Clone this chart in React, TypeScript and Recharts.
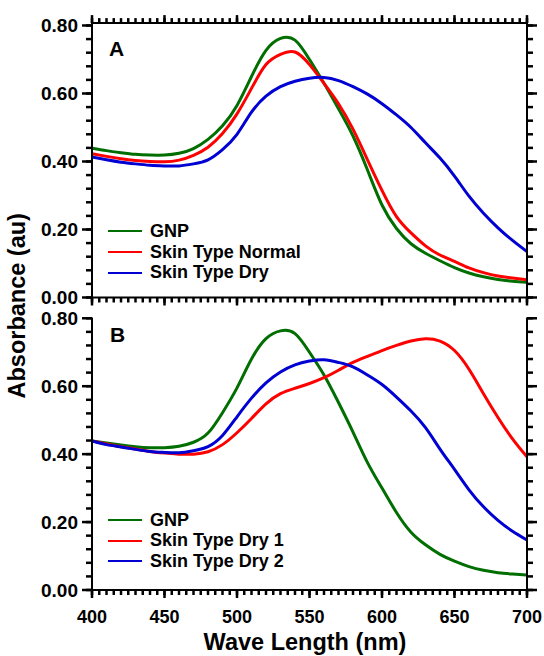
import React from 'react';
import { LineChart, Line, XAxis, YAxis, Legend } from 'recharts';

// wavelength (nm) sampled every 10 nm
const wavelengths = [
  400, 410, 420, 430, 440, 450, 460, 470, 480, 490, 500, 510, 520, 530, 540, 550,
  560, 570, 580, 590, 600, 610, 620, 630, 640, 650, 660, 670, 680, 690, 700,
];

// panel A
const gnpA = [
  0.439, 0.432, 0.426, 0.421, 0.419, 0.419, 0.424, 0.438, 0.465, 0.505, 0.565, 0.65, 0.727, 0.762, 0.757, 0.7,
  0.63, 0.555, 0.475, 0.375, 0.272, 0.203, 0.158, 0.13, 0.108, 0.088, 0.072, 0.061, 0.053, 0.048, 0.045,
];
const normalA = [
  0.423, 0.415, 0.408, 0.403, 0.4, 0.399, 0.404, 0.418, 0.442, 0.482, 0.54, 0.615, 0.685, 0.715, 0.722, 0.685,
  0.63, 0.57, 0.495, 0.405, 0.315, 0.238, 0.19, 0.152, 0.125, 0.106, 0.087, 0.073, 0.063, 0.057, 0.052,
];
const dryA = [
  0.413, 0.405, 0.398, 0.393, 0.389, 0.387, 0.387, 0.393, 0.405, 0.435, 0.48, 0.545, 0.592, 0.62, 0.636, 0.645,
  0.647, 0.638, 0.62, 0.598, 0.57, 0.537, 0.5, 0.455, 0.41, 0.357, 0.298, 0.248, 0.205, 0.168, 0.135,
];

// panel B
const gnpB = [
  0.439, 0.433, 0.427, 0.422, 0.419, 0.419, 0.423, 0.435, 0.462, 0.522, 0.595, 0.68, 0.74, 0.763, 0.755, 0.7,
  0.633, 0.552, 0.465, 0.375, 0.3, 0.228, 0.17, 0.133, 0.105, 0.085, 0.069, 0.058, 0.051, 0.047, 0.044,
];
const dry1B = [
  0.439, 0.43, 0.422, 0.415, 0.408, 0.403, 0.4, 0.4, 0.407, 0.428, 0.463, 0.505, 0.548, 0.578, 0.594, 0.608,
  0.625, 0.647, 0.67, 0.688, 0.705, 0.72, 0.733, 0.74, 0.733, 0.705, 0.65, 0.578, 0.508, 0.445, 0.392,
];
const dry2B = [
  0.439, 0.428, 0.421, 0.414, 0.408, 0.405, 0.404, 0.41, 0.422, 0.455, 0.51, 0.565, 0.61, 0.642, 0.663, 0.674,
  0.678, 0.67, 0.657, 0.633, 0.605, 0.568, 0.527, 0.478, 0.415, 0.355, 0.295, 0.245, 0.205, 0.173, 0.147,
];

const seriesNamesA = ['GNP', 'Skin Type Normal', 'Skin Type Dry'];
const seriesNamesB = ['GNP', 'Skin Type Dry 1', 'Skin Type Dry 2'];
const colors = ['#006e00', '#ff0000', '#0000d2'];

const xMajor = [400, 450, 500, 550, 600, 650, 700];
const yMajor = [0, 0.2, 0.4, 0.6, 0.8];

// minor ticks: 5 nm and 0.04 au
const xMinor: number[] = [];
for (let k = 0; k <= 60; k++) xMinor.push(400 + k * 5);
const yMinor: number[] = [];
for (let k = 0; k <= 20; k++) yMinor.push(Math.round(k * 4) / 100);

const dataA = wavelengths.map((w, i) => ({ w, a: gnpA[i], b: normalA[i], c: dryA[i] }));
const dataB = wavelengths.map((w, i) => ({ w, a: gnpB[i], b: dry1B[i], c: dry2B[i] }));

const FONT = '"Liberation Sans", Arial, Helvetica, sans-serif';
const INK = '#000';
const blank = () => '';
// recharts skips an axis whose box is 0 wide/high, so the minor-tick axes get a sliver
const SLIVER = 0.01;

const LegendBox = ({ names }: any) => (
  <div style={{ fontFamily: FONT, fontWeight: 700, fontSize: 18, color: INK, lineHeight: '20.7px' }}>
    {names.map((n: string, i: number) => (
      <div key={n} style={{ display: 'flex', alignItems: 'center', height: 20.7, whiteSpace: 'nowrap' }}>
        <div style={{ width: 34, height: 2, background: colors[i] }} />
        <span style={{ marginLeft: 8 }}>{n}</span>
      </div>
    ))}
  </div>
);

const tickLine = { stroke: INK, strokeWidth: 2.5 };
const axisLine = { stroke: INK, strokeWidth: 2 };
const tickFontX = { fontSize: 18, fontWeight: 700, fill: INK, fontFamily: FONT };
const tickFontY = { fontSize: 19, fontWeight: 700, fill: INK, fontFamily: FONT };

// major axes: ids "z*", declared first; minor axes: ids "m*", declared last (they end up next to the plot)
const Panel = ({ data, names, top, height, margin, domainMax, withTop, labels, legendTop }: any) => (
  <div style={{ position: 'absolute', left: 0, top }}>
    <LineChart width={544} height={height} data={data} margin={margin}>
      <XAxis xAxisId="zb" type="number" dataKey="w" domain={[400, 700]} allowDataOverflow ticks={xMajor}
        interval={0} height={labels ? 40 : 10} stroke={INK} tickSize={8} tickMargin={12.7} tickLine={tickLine}
        axisLine={axisLine} tick={tickFontX} tickFormatter={labels ? undefined : blank} />
      {withTop && (
        <XAxis xAxisId="zt" orientation="top" type="number" dataKey="w" domain={[400, 700]} allowDataOverflow
          ticks={xMajor} interval={0} height={10} stroke={INK} tickSize={8} tickLine={tickLine}
          axisLine={axisLine} tickFormatter={blank} />
      )}
      <YAxis yAxisId="zl" type="number" domain={[0, domainMax]} allowDataOverflow ticks={yMajor} interval={0}
        width={60} stroke={INK} tickSize={10} tickMargin={4} tickLine={tickLine} axisLine={axisLine}
        tick={tickFontY} tickFormatter={(v: number) => v.toFixed(2)} />
      <YAxis yAxisId="zr" orientation="right" type="number" domain={[0, domainMax]} allowDataOverflow
        ticks={yMajor} interval={0} width={10} stroke={INK} tickSize={10} tickLine={tickLine}
        axisLine={axisLine} tickFormatter={blank} />
      <XAxis xAxisId="mb" type="number" dataKey="w" domain={[400, 700]} allowDataOverflow ticks={xMinor}
        interval={0} height={SLIVER} stroke={INK} tickSize={5} tickLine={tickLine} axisLine={false}
        tickFormatter={blank} />
      {withTop && (
        <XAxis xAxisId="mt" orientation="top" type="number" dataKey="w" domain={[400, 700]} allowDataOverflow
          ticks={xMinor} interval={0} height={SLIVER} stroke={INK} tickSize={5} tickLine={tickLine}
          axisLine={false} tickFormatter={blank} />
      )}
      <YAxis yAxisId="ml" type="number" domain={[0, domainMax]} allowDataOverflow ticks={yMinor} interval={0}
        width={SLIVER} stroke={INK} tickSize={6} tickLine={tickLine} axisLine={false} tickFormatter={blank} />
      <YAxis yAxisId="mr" orientation="right" type="number" domain={[0, domainMax]} allowDataOverflow
        ticks={yMinor} interval={0} width={SLIVER} stroke={INK} tickSize={6} tickLine={tickLine}
        axisLine={false} tickFormatter={blank} />
      <Legend
        layout="vertical"
        verticalAlign="middle"
        align="center"
        content={<LegendBox names={names} />}
        wrapperStyle={{ left: 108, top: legendTop, width: 240, height: 63 }}
      />
      {['a', 'b', 'c'].map((k, i) => (
        <Line
          key={k}
          xAxisId="zb"
          yAxisId="zl"
          type="natural"
          dataKey={k}
          name={names[i]}
          stroke={colors[i]}
          strokeWidth={3}
          dot={false}
          activeDot={false}
          isAnimationActive={false}
        />
      ))}
    </LineChart>
  </div>
);

const label = (fontSize: number): React.CSSProperties => ({
  position: 'absolute',
  fontFamily: FONT,
  fontWeight: 700,
  fontSize,
  lineHeight: `${fontSize}px`,
  color: INK,
  whiteSpace: 'nowrap',
});

export default function App() {
  return (
    <div style={{ position: 'absolute', left: 0, top: 0, width: 544, height: 656, background: '#fff' }}>
      <Panel
        data={dataA}
        names={seriesNamesA}
        top={0}
        height={320}
        margin={{ top: 13.1, right: 7, bottom: 12.5, left: 32 }}
        domainMax={0.807}
        withTop
        labels={false}
        legendTop={221}
      />
      <Panel
        data={dataB}
        names={seriesNamesB}
        top={300}
        height={356}
        margin={{ top: 17.6, right: 7, bottom: 26, left: 32 }}
        domainMax={0.802}
        withTop={false}
        labels
        legendTop={209.7}
      />
      <div style={{ ...label(21), left: 109, top: 37.7 }}>A</div>
      <div style={{ ...label(21), left: 110, top: 323.7 }}>B</div>
      <div
        style={{
          ...label(23.5),
          left: 18.4 - 120,
          top: 306 - 11.75,
          width: 240,
          textAlign: 'center',
          transform: 'rotate(-90deg)',
        }}
      >
        Absorbance (au)
      </div>
      <div style={{ ...label(23.5), left: 105, top: 631.1, width: 400, textAlign: 'center' }}>Wave Length (nm)</div>
    </div>
  );
}
